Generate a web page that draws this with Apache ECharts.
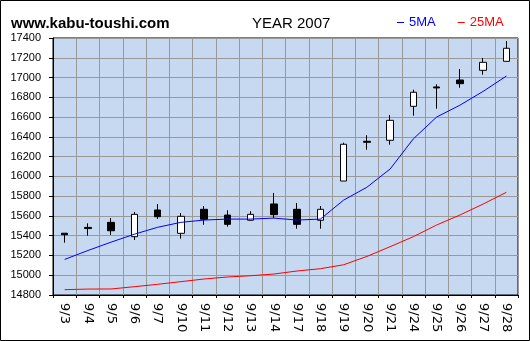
<!DOCTYPE html>
<html>
<head>
<meta charset="utf-8">
<script src="https://cdn.jsdelivr.net/npm/echarts@6/dist/echarts.min.js"></script>
<style>
  html, body { margin: 0; padding: 0; background: #fff; }
  #chart { width: 530px; height: 341px; }
</style>
</head>
<body>
<div id="chart"></div>
<script>
// Daily Nikkei-style candles, September 2007
const dates = ['9/3','9/4','9/5','9/6','9/7','9/10','9/11','9/12','9/13','9/14',
               '9/17','9/18','9/19','9/20','9/21','9/24','9/25','9/26','9/27','9/28'];
const openVals  = [15425,15484,15535,15390,15660,15424,15667,15609,15556,15721,
                   15667,15556,15953,16355,16365,16709,16905,16975,17073,17164];
const closeVals = [15410,15472,15450,15616,15592,15596,15566,15515,15616,15613,
                   15515,15667,16325,16345,16567,16851,16895,16938,17154,17296];
const lowVals   = [15329,15400,15407,15356,15569,15370,15511,15491,15553,15579,
                   15471,15471,15953,16270,16321,16614,16685,16897,17029,17164];
const highVals  = [15427,15525,15579,15640,15720,15630,15700,15657,15647,15832,
                   15731,15700,16341,16416,16621,16877,16932,17086,17198,17370];
const ma5  = [15160,15250,15335,15415,15485,15535,15558,15568,15568,15578,
              15558,15568,15760,15890,16075,16380,16600,16720,16860,17015];
const ma25 = [14854,14860,14861,14884,14908,14935,14962,14982,14995,15012,
              15043,15066,15106,15190,15289,15390,15508,15609,15720,15839];

const yMin = 14800, yMax = 17400, yStep = 200;

const candles = dates.map((d, i) => [openVals[i], closeVals[i], lowVals[i], highVals[i]]);

const chart = echarts.init(document.getElementById('chart'), null, { renderer: 'canvas' });
chart.setOption({
  animation: false,
  backgroundColor: '#ffffff',
  title: [
    { text: 'www.kabu-toushi.com', left: 6, top: 11,
      textStyle: { fontFamily: 'Liberation Sans', fontSize: 15, fontWeight: 'bold', color: '#000' } },
    { text: 'YEAR 2007', left: 247, top: 11,
      textStyle: { fontFamily: 'Liberation Sans', fontSize: 15, fontWeight: 'normal', color: '#000' } }
  ],
  legend: {
    left: 392, top: 11,
    icon: 'rect', itemWidth: 7, itemHeight: 1, itemGap: 22,
    selectedMode: false,
    textStyle: { fontFamily: 'Liberation Sans', fontSize: 13 },
    data: [
      { name: '5MA', textStyle: { color: '#0000ff' } },
      { name: '25MA', textStyle: { color: '#ff0000' } }
    ]
  },
  graphic: [
    { type: 'rect', shape: { x: 0.5, y: 0.5, width: 529, height: 340 },
      style: { fill: 'none', stroke: '#000', lineWidth: 1 }, z: 100 }
  ],
  grid: {
    left: 53, right: 12, top: 38, bottom: 46,
    show: true, backgroundColor: '#c6d9f1', borderColor: '#000', borderWidth: 1
  },
  xAxis: {
    type: 'category', data: dates, boundaryGap: true,
    axisLine: { lineStyle: { color: '#000', width: 1 } },
    axisTick: { show: true, length: 3, lineStyle: { color: '#000' } },
    splitLine: { show: true, lineStyle: { color: '#999999', width: 1 } },
    axisLabel: { rotate: -90, margin: 8, fontFamily: 'DejaVu Sans', fontSize: 13, color: '#000', interval: 0 }
  },
  yAxis: {
    type: 'value', min: yMin, max: yMax, interval: yStep, scale: true,
    axisLine: { show: true, lineStyle: { color: '#000', width: 1 } },
    axisTick: { show: true, length: 4, lineStyle: { color: '#000' } },
    splitLine: { show: true, lineStyle: { color: '#999999', width: 1 } },
    axisLabel: { margin: 12, fontFamily: 'Liberation Sans', fontSize: 11, color: '#000',
                 formatter: v => String(v) }
  },
  series: [
    {
      name: 'price', type: 'candlestick', data: candles, barWidth: 7,
      itemStyle: {
        color: '#ffffff', color0: '#000000',
        borderColor: '#000000', borderColor0: '#000000', borderColorDoji: '#000000',
        borderWidth: 1
      }
    },
    {
      name: '5MA', type: 'line', data: ma5, symbol: 'none', z: 3,
      itemStyle: { color: '#0000ff' },
      lineStyle: { color: '#0000ff', width: 1 }
    },
    {
      name: '25MA', type: 'line', data: ma25, symbol: 'none', z: 3,
      itemStyle: { color: '#ff0000' },
      lineStyle: { color: '#ff0000', width: 1 }
    }
  ]
});
</script>
</body>
</html>
